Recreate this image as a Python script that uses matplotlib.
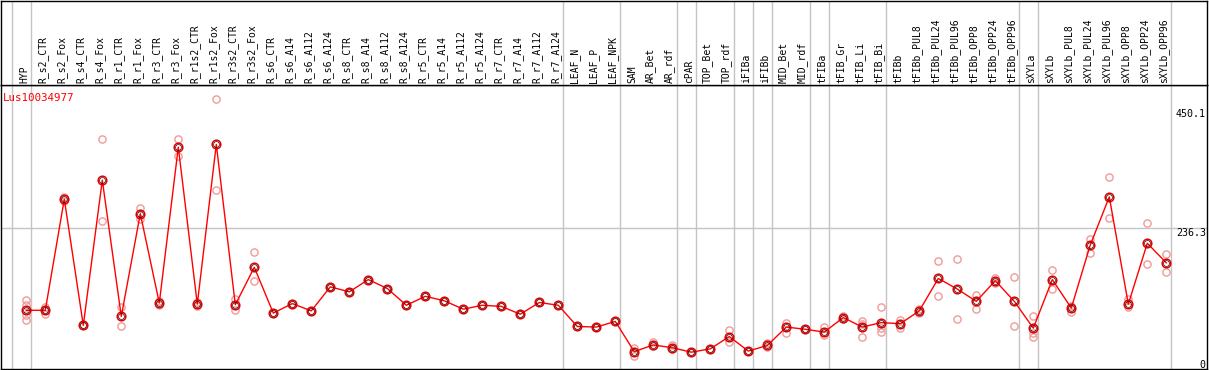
import matplotlib
matplotlib.use("Agg")
import matplotlib.pyplot as plt
import matplotlib.transforms as mtransforms

plt.rcParams['font.family'] = ['DejaVu Sans Mono']

gene_id = "Lus10034977"

samples = [
    "HYP", "R_s2_CTR", "R_s2_Fox", "R_s4_CTR", "R_s4_Fox", "R_r1_CTR", "R_r1_Fox",
    "R_r3_CTR", "R_r3_Fox", "R_r1s2_CTR", "R_r1s2_Fox", "R_r3s2_CTR", "R_r3s2_Fox",
    "R_s6_CTR", "R_s6_A14", "R_s6_A112", "R_s6_A124", "R_s8_CTR", "R_s8_A14",
    "R_s8_A112", "R_s8_A124", "R_r5_CTR", "R_r5_A14", "R_r5_A112", "R_r5_A124",
    "R_r7_CTR", "R_r7_A14", "R_r7_A112", "R_r7_A124", "LEAF_N", "LEAF_P", "LEAF_NPK",
    "SAM", "AR_Bet", "AR_rdf", "cPAR", "TOP_Bet", "TOP_rdf", "iFIBa", "iFIBb",
    "MID_Bet", "MID_rdf", "tFIBa", "tFIB_Gr", "tFIB_Li", "tFIB_Bi", "tFIBb",
    "tFIBb_PUL8", "tFIBb_PUL24", "tFIBb_PUL96", "tFIBb_OPP8", "tFIBb_OPP24", "tFIBb_OPP96",
    "sXYLa", "sXYLb", "sXYLb_PUL8", "sXYLb_PUL24", "sXYLb_PUL96", "sXYLb_OPP8",
    "sXYLb_OPP24", "sXYLb_OPP96",
]

# mean expression per sample
means = [
    89, 89, 288, 62, 322, 78, 262, 102, 381, 100, 386, 99, 166,
    84, 101, 88, 131, 122, 144, 128, 98, 114, 106, 91, 98, 96, 82, 103, 98,
    60, 59, 69,
    15, 27, 22, 14, 20, 42, 16, 26, 59, 55, 50, 76, 59, 67, 65,
    88, 146, 127, 105, 142, 105,
    57, 144, 93, 206, 292, 100, 209, 174,
]

# individual replicates per sample
replicates = [
    [108, 98, 80, 71], [95, 89, 82], [292, 285], [62, 62], [395, 248], [94, 60],
    [273, 252], [106, 98], [395, 365], [104, 97], [468, 304], [109, 90], [193, 141],
    [84], [101], [88], [131], [122], [144], [128], [98], [114], [106], [91], [98],
    [96], [82], [103], [98], [60], [59], [69],
    [22, 8], [33, 25], [26, 20], [14], [20], [54, 32], [16], [31, 23],
    [67, 49], [55], [59, 44], [79, 73], [70, 65, 42], [94, 57, 50], [72, 57],
    [92, 84], [178, 114], [180, 73], [116, 92], [147, 137], [148, 60],
    [78, 49, 42], [162, 127], [97, 86], [217, 192], [327, 254], [109, 94],
    [245, 171], [189, 157],
]

# number of samples in each tissue group (separated by vertical lines)
group_sizes = [1, 28, 3, 3, 1, 2, 1, 1, 2, 1, 3, 7, 1, 7]

axis_ticks = [0, 236.3, 450.1]

W, H = 1209, 370
fig = plt.figure(figsize=(W / 100, H / 100), dpi=100)

x_left, x_right = 1, 1207
ax = fig.add_axes([x_left / W, 1 / H, (x_right - x_left) / W, 284 / H])
hdr = fig.add_axes([x_left / W, (H - 85) / H, (x_right - x_left) / W, 84.5 / H], sharex=ax)

xs = list(range(len(samples)))
ax.set_xlim((x_left - 26.3) / 19, (x_right - 26.3) / 19)
ax.set_ylim(-16.1, 492.3)
hdr.set_ylim(0, 1)

# group separators
bounds = [-1]
total = -1
for n in group_sizes:
    total += n
    bounds.append(total)
for b in bounds:
    for a in (ax, hdr):
        a.axvline(b + 0.23, color='#c4c4c4', lw=1.0, zorder=0)
ax.axhline(axis_ticks[1], color='#c4c4c4', lw=1.0, zorder=0)

# replicates
for i, reps in enumerate(replicates):
    ax.plot([i] * len(reps), reps, ls='none', marker='o', ms=5.2, mfc='none',
            mec='#f09a9a', mew=1.0, zorder=2)

# mean line
ax.plot(xs, means, color='red', lw=1.0, zorder=3)
ax.plot(xs, means, ls='none', marker='o', ms=6.2, mfc='none', mec='#e00000', mew=1.1, zorder=4)
ax.plot(xs, means, ls='none', marker='o', ms=4.2, mfc='none', mec='#300000', mew=0.5, zorder=5)

ax.text(0.0019, 1 - (100.7 - 85) / 284, gene_id, transform=ax.transAxes, color='red',
        fontsize=7.8, ha='left', va='baseline')

trans = mtransforms.blended_transform_factory(ax.transAxes, ax.transData)
for t in axis_ticks:
    lab = "0" if t == 0 else f"{t:.1f}"
    ax.text(0.999, t, lab, transform=trans, ha='right', va='top', fontsize=7.2, color='black')

for i, name in enumerate(samples):
    hdr.text(i + 0.14, 2.5 / 85, name, rotation=90, ha='right', va='bottom',
             fontsize=7, color='black')

for a in (ax, hdr):
    a.set_xticks([])
    a.set_yticks([])
    for s in a.spines.values():
        s.set_color('black')
        s.set_linewidth(1.0)
    a.set_facecolor('white')

fig.savefig("out.png", dpi=100, facecolor='white')
